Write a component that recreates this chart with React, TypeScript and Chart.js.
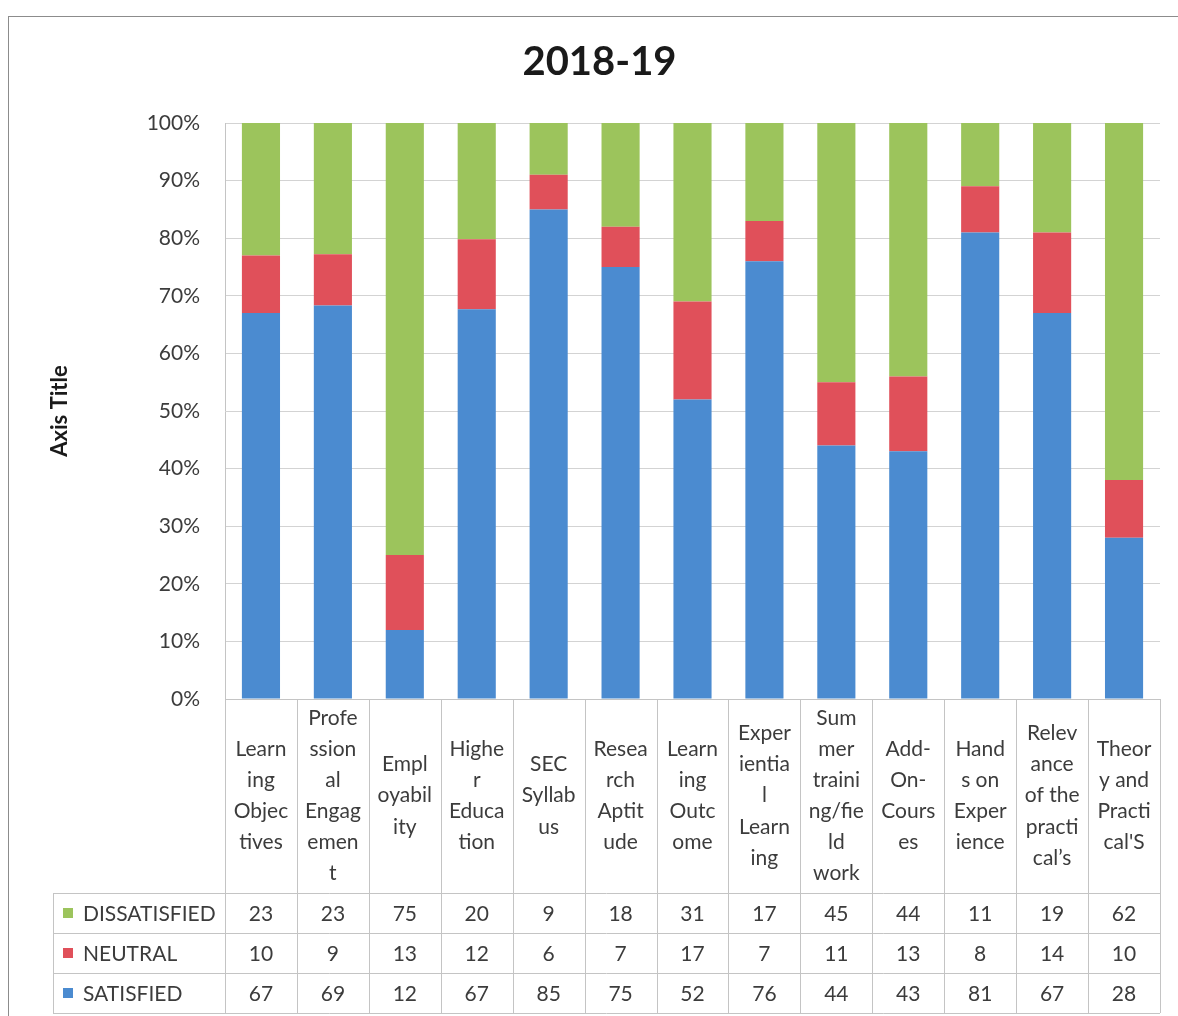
import React, { useEffect, useRef } from "react";
import { Chart, registerables } from "chart.js";

Chart.register(...registerables);

const chartTitle = "2018-19";
const yAxisTitle = "Axis Title";

const categories: string[][] = [
  ["Learn", "ing", "Objec", "tives"],
  ["Profe", "ssion", "al", "Engag", "emen", "t"],
  ["Empl", "oyabil", "ity"],
  ["Highe", "r", "Educa", "tion"],
  ["SEC", "Syllab", "us"],
  ["Resea", "rch", "Aptit", "ude"],
  ["Learn", "ing", "Outc", "ome"],
  ["Exper", "ientia", "l", "Learn", "ing"],
  ["Sum", "mer", "traini", "ng/fie", "ld", "work"],
  ["Add-", "On-", "Cours", "es"],
  ["Hand", "s on", "Exper", "ience"],
  ["Relev", "ance", "of the", "practi", "cal\u2019s"],
  ["Theor", "y and", "Practi", "cal'S"],
];

const dissatisfied = [23, 23, 75, 20, 9, 18, 31, 17, 45, 44, 11, 19, 62];
const neutral = [10, 9, 13, 12, 6, 7, 17, 7, 11, 13, 8, 14, 10];
const satisfied = [67, 69, 12, 67, 85, 75, 52, 76, 44, 43, 81, 67, 28];

const seriesNames = ["DISSATISFIED", "NEUTRAL", "SATISFIED"];
const yTicks = [0, 10, 20, 30, 40, 50, 60, 70, 80, 90, 100];

const COLORS = {
  dissatisfied: "#9cc45c",
  neutral: "#e0505a",
  satisfied: "#4b8bd0",
};
const TEXT = "#3c3c3c";
const FONT = "Lato, 'Noto Sans', sans-serif";
const TABLE_LINE = "#c4c4c4";

const totals = categories.map((_, i) => dissatisfied[i] + neutral[i] + satisfied[i]);
const pct = (arr: number[]) => arr.map((v, i) => (v / totals[i]) * 100);

export default function App() {
  const ref = useRef<HTMLCanvasElement | null>(null);

  useEffect(() => {
    document.documentElement.style.overflow = "hidden";
    document.body.style.overflow = "hidden";
    const canvas = ref.current;
    if (!canvas) return;

    const rows = [
      { name: seriesNames[0], values: dissatisfied, color: COLORS.dissatisfied },
      { name: seriesNames[1], values: neutral, color: COLORS.neutral },
      { name: seriesNames[2], values: satisfied, color: COLORS.satisfied },
    ];

    const tablePlugin = {
      id: "dataTable",
      afterDraw(chart: any) {
        const { ctx, chartArea } = chart;
        const xs = chart.scales.x;
        const n = categories.length;
        const colW = (chartArea.right - chartArea.left) / n;
        const headerTop = chartArea.bottom;
        const headerBottom = xs.bottom;
        const rowH = 40;
        const tableBottom = headerBottom + rowH * rows.length;
        const legendLeft = 44;
        ctx.save();
        ctx.strokeStyle = TABLE_LINE;
        ctx.lineWidth = 1;
        ctx.beginPath();
        for (let k = 0; k <= n; k++) {
          const x = Math.round(chartArea.left + k * colW) + 0.5;
          ctx.moveTo(x, headerTop);
          ctx.lineTo(x, tableBottom);
        }
        ctx.moveTo(legendLeft + 0.5, headerBottom);
        ctx.lineTo(legendLeft + 0.5, tableBottom);
        for (let r = 0; r <= rows.length; r++) {
          const y = Math.round(headerBottom + r * rowH) + 0.5;
          ctx.moveTo(legendLeft, y);
          ctx.lineTo(chartArea.right, y);
        }
        ctx.stroke();

        ctx.font = `21px ${FONT}`;
        ctx.fillStyle = TEXT;
        ctx.textBaseline = "middle";
        rows.forEach((row, r) => {
          const cy = headerBottom + r * rowH + rowH / 2;
          ctx.fillStyle = row.color;
          ctx.fillRect(legendLeft + 10, cy - 5, 10, 10);
          ctx.fillStyle = TEXT;
          ctx.textAlign = "left";
          ctx.fillText(row.name, legendLeft + 30, cy + 1);
          ctx.textAlign = "center";
          row.values.forEach((v, i) => {
            const cx = xs.getPixelForValue(i);
            ctx.fillText(String(v), cx, cy + 1);
          });
        });
        ctx.restore();
      },
    };

    const chart = new Chart(canvas, {
      type: "bar",
      data: {
        labels: categories,
        datasets: [
          { label: seriesNames[2], data: pct(satisfied), backgroundColor: COLORS.satisfied },
          { label: seriesNames[1], data: pct(neutral), backgroundColor: COLORS.neutral },
          { label: seriesNames[0], data: pct(dissatisfied), backgroundColor: COLORS.dissatisfied },
        ],
      },
      options: {
        responsive: false,
        animation: false,
        layout: { padding: { left: 30, right: 19, top: 21, bottom: 124 } },
        datasets: { bar: { categoryPercentage: 1, barPercentage: 0.53 } },
        plugins: {
          legend: { display: false },
          tooltip: { enabled: false },
          title: {
            display: true,
            text: chartTitle,
            color: "#1a1a1a",
            font: { family: FONT, size: 40, weight: "bold", lineHeight: 1.2 },
            padding: { top: 0, bottom: 37 },
          },
        },
        scales: {
          x: {
            stacked: true,
            grid: { display: false },
            border: { display: true, color: TABLE_LINE },
            ticks: {
              autoSkip: false,
              maxRotation: 0,
              minRotation: 0,
              crossAlign: "center",
              padding: 11,
              color: TEXT,
              font: { family: FONT, size: 21, lineHeight: 1.48 },
            },
            afterFit(scale: any) {
              scale.height = 194;
            },
          },
          y: {
            stacked: true,
            min: 0,
            max: 100,
            afterBuildTicks(scale: any) {
              scale.ticks = yTicks.map((v) => ({ value: v }));
            },
            grid: { color: "#d3d3d3", drawTicks: false },
            border: { display: true, color: TABLE_LINE },
            ticks: {
              padding: 25,
              color: TEXT,
              font: { family: FONT, size: 21 },
              callback: (v: any) => `${v}%`,
            },
            title: {
              display: true,
              text: yAxisTitle,
              color: "#1a1a1a",
              font: { family: FONT, size: 22, weight: "bold", lineHeight: 1.2 },
              padding: { top: 8, bottom: 0 },
            },
            afterFit(scale: any) {
              scale.width = 186;
            },
          },
        },
      },
      plugins: [tablePlugin],
    } as any);

    return () => chart.destroy();
  }, []);

  return (
    <div
      style={{
        position: "absolute",
        left: 8,
        top: 16,
        width: 1172,
        height: 1010,
        border: "1px solid #8c8c8c",
        boxSizing: "border-box",
        background: "#fff",
      }}
    >
      <canvas ref={ref} width={1170} height={1000} style={{ display: "block" }} />
    </div>
  );
}
